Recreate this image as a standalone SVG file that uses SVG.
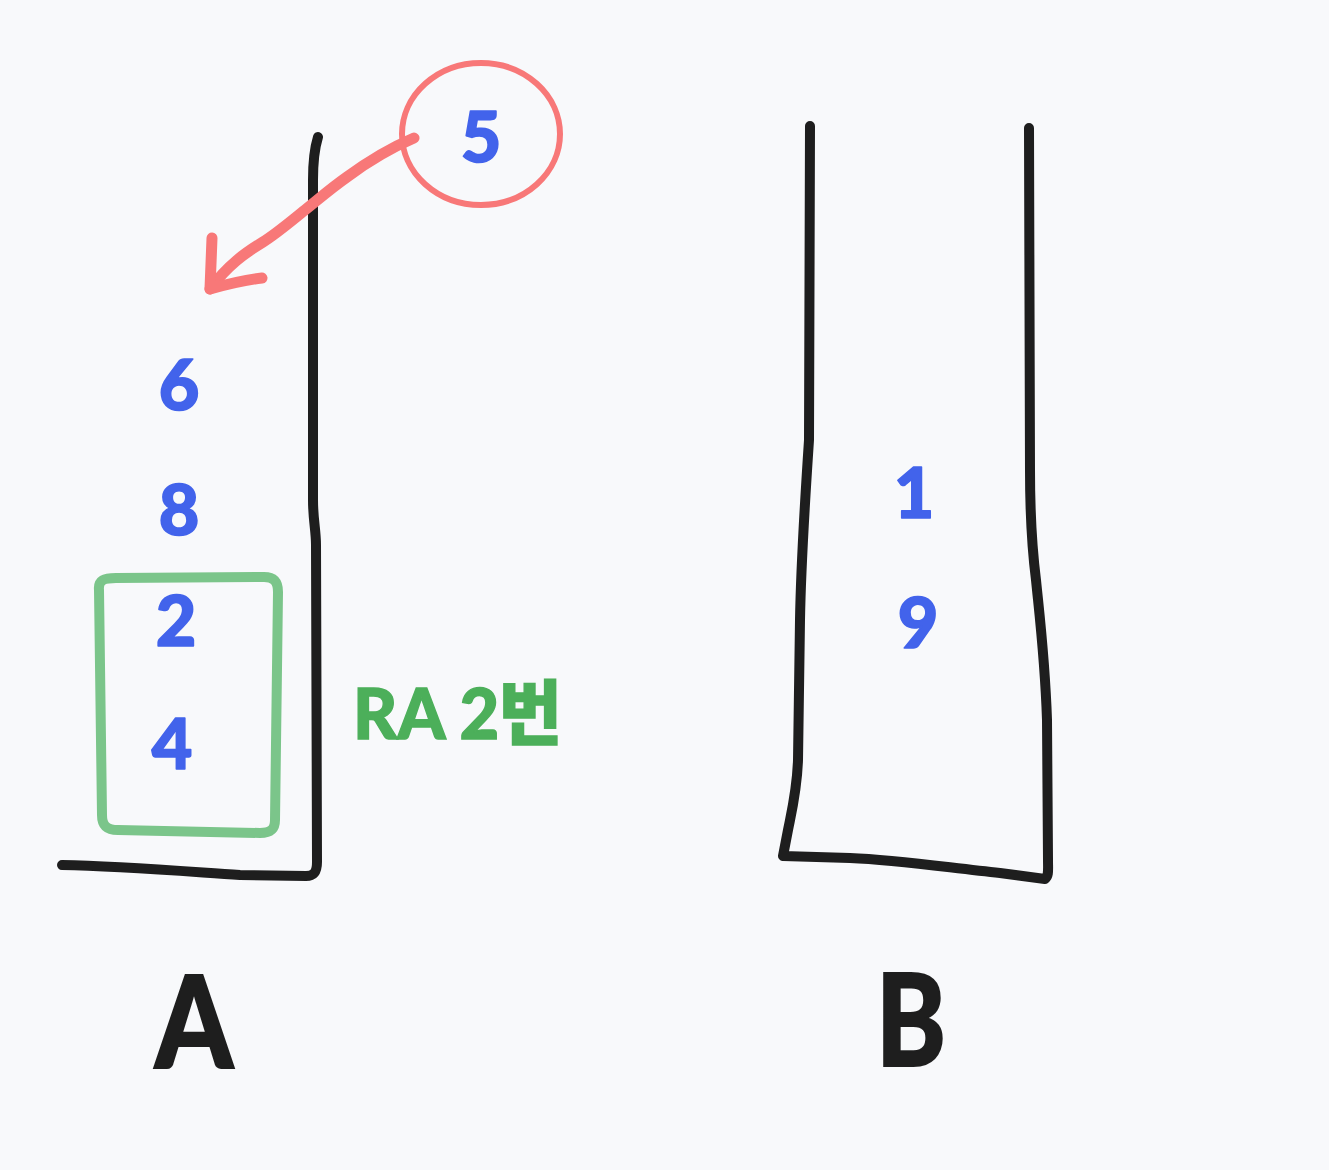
<svg xmlns="http://www.w3.org/2000/svg" width="1329" height="1170" viewBox="0 0 1329 1170">
<style>
.wall{fill:none;stroke:#1e1e1e;stroke-width:10;stroke-linecap:round;stroke-linejoin:round}
.num{font-family:Lato,"Noto Sans",sans-serif;font-weight:900;font-size:70px;fill:#4263eb;stroke:#4263eb;stroke-width:1.6;stroke-linejoin:round;text-anchor:middle}
.lbl{font-family:Lato,"Liberation Sans",sans-serif;font-weight:900;font-size:128px;fill:#1e1e1e;stroke:#1e1e1e;stroke-width:2;text-anchor:middle}
.red{fill:none;stroke:#f87878;stroke-linecap:round;stroke-linejoin:round}
</style>
<rect width="1329" height="1170" fill="#f8f9fb"/>
<g id="stackA">
<path class="wall" d="M318,137 C314,150 313,165 313,180 L313,500 C313,520 316,530 316,545 L317,862 C317,872 314,876 306,876 L240,875 C180,871 120,866 62,865"/>
<text class="lbl" x="194" y="1068" textLength="78" lengthAdjust="spacingAndGlyphs">A</text>
</g>
<g id="stackB">
<path class="wall" d="M810,126 L809,440 C805,500 801,560 800,620 L798,760 C797,790 792,810 788,830 L783,856 L850,858 C900,860 950,868 1000,873 L1045,879 C1049,876 1048,870 1048,860 L1047,720 C1045,660 1040,620 1036,580 C1031,540 1030,500 1030,470 L1029,128"/>
<text class="lbl" x="911" y="1066" textLength="70" lengthAdjust="spacingAndGlyphs">B</text>
</g>
<g id="numbers">
<text class="num" x="179" y="410">6</text>
<text class="num" x="179" y="535">8</text>
<text class="num" x="176" y="646">2</text>
<text class="num" x="172" y="769">4</text>
<text class="num" x="914" y="518">1</text>
<text class="num" x="918" y="648">9</text>
</g>
<g id="group-RA">
<path d="M99,590 C98,580 104,578 116,578 L264,577 C274,577 278,582 278,592 L275,820 C275,830 270,833 260,833 L118,830 C106,830 102,825 102,815 Z" fill="none" stroke="#7bc58a" stroke-width="10" stroke-linejoin="round"/>
<text x="353" y="739" textLength="209" lengthAdjust="spacingAndGlyphs" font-family="Lato,'Noto Sans CJK KR',sans-serif" font-weight="900" font-size="70" fill="#4caf5a" stroke="#4caf5a" stroke-width="1.4">RA 2번</text>
</g>
<g id="node-5">
<ellipse class="red" cx="481" cy="134" rx="79" ry="71" stroke-width="6"/>
<text class="num" x="481" y="162">5</text>
</g>
<g id="connectors">
<path class="red" stroke-width="11" d="M414,138 C395,146 370,160 347,177 C330,189 320,198 305,210 C290,222 276,234 263,242 C245,253 228,265 210,289"/>
<path class="red" stroke-width="11" d="M212,238 L210,289 C228,284 245,280 262,278"/>
</g>
</svg>
